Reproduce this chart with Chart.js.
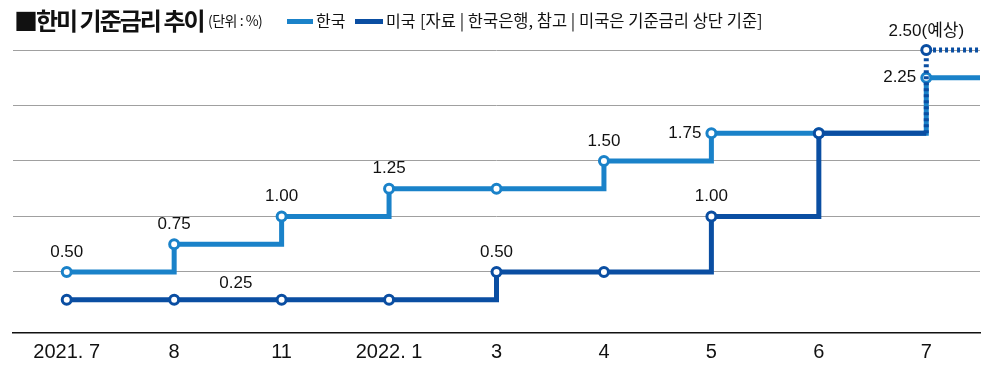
<!DOCTYPE html>
<html>
<head>
<meta charset="utf-8">
<script src="https://cdn.jsdelivr.net/npm/chart.js@4/dist/chart.umd.min.js"></script>
<style>
    body { margin: 0; background: #fff; }
    #wrap { position: relative; width: 1000px; height: 367px; font-family: "Noto Sans CJK KR", sans-serif; color: #111; }
    canvas { position: absolute; left: 0; top: 0; }
    .hd { position: absolute; white-space: nowrap; line-height: 1; }
    .sw { position: absolute; height: 5px; }
</style>
</head>
<body>
<div id="wrap">
    <canvas id="rateChart" width="1000" height="367"></canvas>
    <div class="hd" style="left:14px;top:8px;font-size:24px;font-weight:bold;letter-spacing:-2px">■한미 기준금리 추이</div>
    <div class="hd" style="left:208px;top:13px;font-size:14px;letter-spacing:-0.5px">(단위 : %)</div>
    <div class="sw" style="left:287px;top:19px;width:26px;background:#1a82c9"></div>
    <div class="hd" style="left:316px;top:12px;font-size:16px">한국</div>
    <div class="sw" style="left:355px;top:19px;width:28px;background:#0a4ea2"></div>
    <div class="hd" style="left:386px;top:12px;font-size:16px">미국</div>
    <div class="hd" style="left:420px;top:12px;font-size:16.5px">[자료 | 한국은행, 참고 | 미국은 기준금리 상단 기준]</div>
</div>
<script>
// data
const months = ["2021. 7", "8", "11", "2022. 1", "3", "4", "5", "6", "7"];
const korea = [0.50, 0.75, 1.00, 1.25, 1.25, 1.50, 1.75, 1.75, 2.25];
const usa = [0.25, 0.25, 0.25, 0.25, 0.50, 0.50, 1.00, 1.75];
const usaExpected = 2.50;

const KR_COLOR = "#1a82c9";
const US_COLOR = "#0a4ea2";
const LAST = months.length - 1;

// points (x = month index); the tail runs past the last month
const krPoints = korea.map((v, i) => ({ x: i, y: v }));
krPoints.push({ x: LAST + 0.5, y: korea[LAST], marker: false });

const usPoints = usa.map((v, i) => ({ x: i, y: v }));
usPoints.push({ x: LAST, y: usa[usa.length - 1], marker: false });
usPoints.push({ x: LAST, y: usaExpected });
usPoints.push({ x: LAST + 0.5, y: usaExpected, marker: false });
const usDashFrom = usa.length; // first index of the expected part

const pointRadius = ctx => (ctx.raw && ctx.raw.marker === false) ? 0 : 4.5;

// value labels: [dataset, point index, placement]
const labelSpots = [
    ["kr", 0, "above"], ["kr", 1, "above"], ["kr", 2, "above"], ["kr", 3, "above"],
    ["kr", 5, "above"], ["kr", 6, "left"], ["kr", 8, "left"],
    ["us", 1, "between"], ["us", 4, "above"], ["us", 6, "above"], ["us", 9, "expect"]
];

const valueLabels = {
    id: "valueLabels",
    afterDatasetsDraw(chart) {
        const ctx = chart.ctx;
        const xs = chart.scales.x, ys = chart.scales.y;
        ctx.save();
        ctx.fillStyle = "#111";
        ctx.font = '17px "Liberation Sans", "Noto Sans CJK KR", sans-serif';
        ctx.textBaseline = "middle";
        labelSpots.forEach(([set, idx, where]) => {
            const p = (set === "kr" ? krPoints : usPoints)[idx];
            const px = xs.getPixelForValue(p.x);
            const py = ys.getPixelForValue(p.y);
            const txt = p.y.toFixed(2);
            if (where === "left") {
                ctx.textAlign = "right";
                ctx.fillText(txt, px - 10, py);
            } else if (where === "between") {
                const nx = xs.getPixelForValue(p.x + 1);
                ctx.textAlign = "center";
                ctx.fillText(txt, (px + nx) / 2 + 8, py - 16);
            } else if (where === "expect") {
                ctx.textAlign = "center";
                ctx.fillText(txt + "(예상)", px, py - 19);
            } else {
                ctx.textAlign = "center";
                ctx.fillText(txt, px, py - 20);
            }
        });
        ctx.restore();
    }
};

new Chart(document.getElementById("rateChart"), {
    type: "line",
    data: {
        datasets: [
            {
                label: "미국",
                data: usPoints,
                borderColor: US_COLOR,
                borderWidth: 5,
                stepped: "before",
                pointRadius: pointRadius,
                pointBackgroundColor: "#fff",
                pointBorderColor: US_COLOR,
                pointBorderWidth: 3,
                clip: false,
                segment: {
                    borderDash: c => c.p0DataIndex >= usDashFrom ? [3, 3] : undefined
                }
            },
            {
                label: "한국",
                data: krPoints,
                borderColor: KR_COLOR,
                borderWidth: 5,
                stepped: "before",
                pointRadius: pointRadius,
                pointBackgroundColor: "#fff",
                pointBorderColor: KR_COLOR,
                pointBorderWidth: 3,
                clip: false
            }
        ]
    },
    options: {
        responsive: false,
        animation: false,
        layout: { padding: { left: 13, right: 20, top: 50, bottom: 0 } },
        plugins: { legend: { display: false }, tooltip: { enabled: false } },
        scales: {
            x: {
                type: "linear",
                min: -0.5,
                max: LAST + 0.5,
                afterBuildTicks: s => { s.ticks = months.map((m, i) => ({ value: i })); },
                afterFit: s => { s.height = 34; },
                ticks: {
                    autoSkip: false,
                    maxRotation: 0,
                    padding: 7,
                    color: "#111",
                    font: { family: '"Liberation Sans", sans-serif', size: 20 },
                    callback: v => months[v]
                },
                grid: { display: false, drawTicks: false },
                border: { display: true, color: "#111", width: 1.5 }
            },
            y: {
                min: -0.05,
                max: 2.5,
                afterBuildTicks: s => { s.ticks = [0.5, 1, 1.5, 2, 2.5].map(v => ({ value: v })); },
                ticks: { display: false },
                grid: { color: "#a0a0a0", lineWidth: 1, drawTicks: false },
                border: { display: false }
            }
        }
    },
    plugins: [valueLabels]
});
</script>
</body>
</html>
